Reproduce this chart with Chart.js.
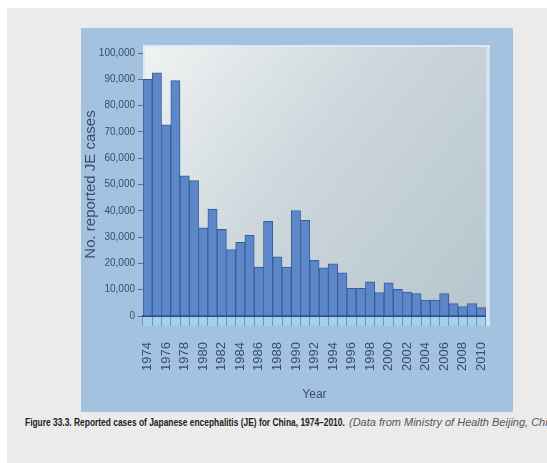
<!DOCTYPE html>
<html>
<head>
<meta charset="utf-8">
<script src="https://cdn.jsdelivr.net/npm/chart.js@4.4.1/dist/chart.umd.min.js"></script>
<style>
  html, body { margin: 0; padding: 0; background: #ffffff; width: 547px; height: 463px; overflow: hidden; }
  #page { position: absolute; left: 7px; top: 8px; width: 540px; height: 455px; background: #ebebeb; }
  #panel { position: absolute; left: 81px; top: 28px; width: 432px; height: 384px; background: #a3c2df; }
  .cap { position: absolute; top: 417px; white-space: nowrap;
         font: 10px "Liberation Sans", Arial, sans-serif; }
  #capTitle { left: 25px; font-weight: bold; color: #222; transform: scaleX(0.84); transform-origin: 0 0; }
  #capSource { left: 349px; top: 416px; font-size: 11px; font-style: italic; color: #555; }
</style>
</head>
<body>
<div id="page"></div>
<div id="panel"><canvas id="chart" width="432" height="384"></canvas></div>
<div class="cap" id="capTitle">Figure 33.3. Reported cases of Japanese encephalitis (JE) for China, 1974–2010.</div>
<div class="cap" id="capSource">(Data from Ministry of Health Beijing, China.)</div>
<script>
// Reported Japanese encephalitis cases in China, one value per year
const years = [
  '1974','1975','1976','1977','1978','1979','1980','1981','1982','1983',
  '1984','1985','1986','1987','1988','1989','1990','1991','1992','1993',
  '1994','1995','1996','1997','1998','1999','2000','2001','2002','2003',
  '2004','2005','2006','2007','2008','2009','2010'
];
const cases = [
  90000, 92500, 72700, 89500, 53300, 51500, 33500, 40700, 33000, 25300,
  28000, 30700, 18600, 36000, 22500, 18600, 40100, 36400, 21200, 18300,
  19800, 16400, 10500, 10500, 13000, 8900, 12600, 10100, 9100, 8500,
  6100, 6100, 8500, 4700, 3600, 4700, 3200
];
// every other year is labelled on the axis
const yearTicks = years.filter((y, i) => i % 2 === 0);
const yTickValues = [0, 10000, 20000, 30000, 40000, 50000, 60000, 70000, 80000, 90000, 100000];

const tickFont = { family: '"Liberation Sans", Arial, sans-serif', size: 10 };
const textColor = '#3a4c6c';

// shaded back wall of the plot and the light floor strip below zero
const wallPlugin = {
  id: 'wall',
  beforeDraw(chart) {
    const { ctx, chartArea: a } = chart;
    const top = a.top - 8;
    ctx.save();
    const g = ctx.createLinearGradient(a.left, top, a.right, a.bottom);
    g.addColorStop(0, '#f0f3f3');
    g.addColorStop(0.45, '#cdd7dc');
    g.addColorStop(1, '#b6c5ce');
    ctx.fillStyle = g;
    ctx.fillRect(a.left, top, a.right - a.left, a.bottom - top);
    ctx.fillStyle = '#d3e2ee';
    ctx.fillRect(a.right, top, 4, a.bottom - top + 10);
    ctx.fillStyle = '#dfe9f1';
    ctx.fillRect(a.left, top, a.right - a.left + 4, 2);
    ctx.fillRect(a.left, top, 2, a.bottom - top);
    ctx.fillStyle = '#a6cfee';
    ctx.fillRect(a.left, a.bottom, a.right - a.left, 10);
    ctx.restore();
  }
};

new Chart(document.getElementById('chart'), {
  type: 'bar',
  data: {
    labels: years,
    datasets: [{
      data: cases,
      backgroundColor: '#5c88c9',
      borderColor: '#3a5c9a',
      borderWidth: 1,
      barPercentage: 1,
      categoryPercentage: 1
    }]
  },
  options: {
    responsive: false,
    animation: false,
    layout: { padding: { top: 25, right: 8, bottom: 6, left: 0 } },
    plugins: { legend: { display: false }, tooltip: { enabled: false } },
    scales: {
      x: {
        afterFit(scale) { scale.height = 90; },
        grid: { drawOnChartArea: false, tickLength: 10, color: '#6f93c3', offset: true },
        border: { display: true, color: '#2e4f86', width: 2 },
        ticks: {
          autoSkip: false, minRotation: 90, maxRotation: 90, padding: 16,
          font: { ...tickFont, size: 13 }, color: textColor,
          callback: (v, i) => (yearTicks.includes(years[i]) ? years[i] : '')
        },
        title: { display: true, text: 'Year', color: textColor,
                 font: { ...tickFont, size: 12 }, padding: { top: 4, bottom: 4 } }
      },
      y: {
        afterFit(scale) { scale.width = 62; },
        min: 0, max: 100000,
        afterBuildTicks(scale) { scale.ticks = yTickValues.map(v => ({ value: v })); },
        grid: { drawOnChartArea: false, tickLength: 5, color: '#4c6fa6' },
        border: { display: false },
        ticks: {
          font: tickFont, color: textColor, padding: 3,
          callback: v => v.toLocaleString('en-US')
        },
        title: { display: true, text: 'No. reported JE cases', color: textColor,
                 font: { ...tickFont, size: 15 }, padding: { top: 1, bottom: 1 } }
      }
    }
  },
  plugins: [wallPlugin]
});
</script>
</body>
</html>
